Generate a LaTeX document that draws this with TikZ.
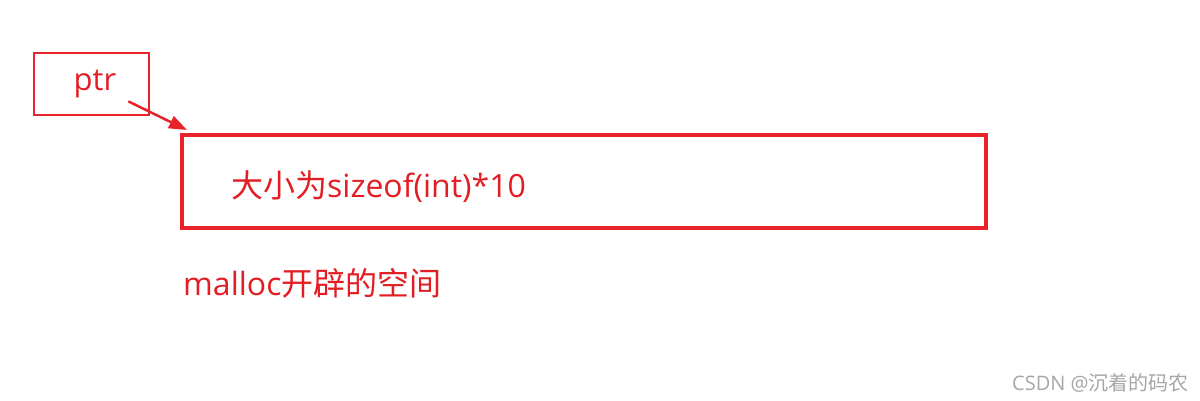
\documentclass[tikz,border=0pt]{standalone}
\usepackage{fontspec}
\setmainfont{Open Sans}
\newfontfamily\cjk{Noto Sans CJK SC}
\usetikzlibrary{arrows.meta}
\definecolor{cred}{RGB}{232,35,42}
\definecolor{tred}{RGB}{226,30,36}
\tikzset{
  redbox/.style={draw=cred, rectangle, inner sep=0pt},
  lbl/.style={text=tred, font=\fontsize{32}{34}\selectfont, inner sep=0pt, anchor=west},
  arr/.style={draw=cred, line width=2.5pt, -{Triangle[length=18pt,width=13pt]}}
}
\begin{document}
\begin{tikzpicture}[x=1pt,y=-1pt]
\useasboundingbox (0,0) rectangle (1200,401);
\node[redbox, line width=2.8pt, minimum width=115pt, minimum height=62pt] (ptr) at (91.5,84) {};
\node[text=tred, font=\fontsize{31}{33}\selectfont, inner sep=0pt] (ptrtxt) at (95,84) {ptr};
\node[redbox, line width=4pt, minimum width=804pt, minimum height=93pt] (mem) at (584,181.5) {};
\node[lbl] (memtxt) at (231,187) {{\cjk 大小为}sizeof(int)*10};
\node[lbl] (cap) at (183,283) {malloc{\cjk 开辟的空间}};
\draw[arr] ([xshift=-22pt,yshift=15pt]ptr.south east) -- ([xshift=7pt,yshift=3pt]mem.north west);
\node[text=black!35, font=\fontsize{20}{22}\selectfont, inner sep=0pt, anchor=west] (wm) at (1012,383) {CSDN @{\cjk 沉着的码农}};
\end{tikzpicture}
\end{document}
